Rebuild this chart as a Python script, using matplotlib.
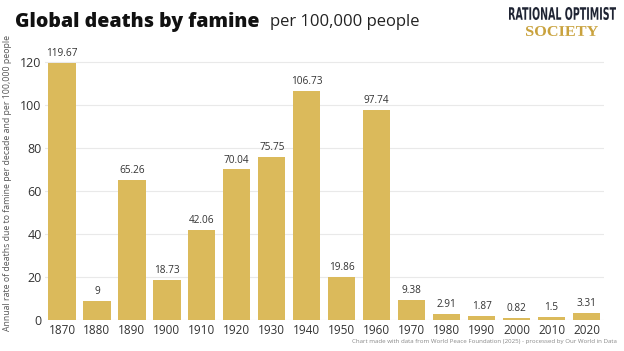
import numpy as np
import matplotlib
matplotlib.use("Agg")
import matplotlib.pyplot as plt
from matplotlib.textpath import TextPath
from matplotlib.patches import PathPatch
from matplotlib.font_manager import FontProperties
from matplotlib.transforms import Affine2D

decades = ["1870", "1880", "1890", "1900", "1910", "1920", "1930", "1940",
           "1950", "1960", "1970", "1980", "1990", "2000", "2010", "2020"]
deaths = [119.67, 9, 65.26, 18.73, 42.06, 70.04, 75.75, 106.73,
          19.86, 97.74, 9.38, 2.91, 1.87, 0.82, 1.5, 3.31]
value_labels = ["119.67", "9", "65.26", "18.73", "42.06", "70.04", "75.75", "106.73",
                "19.86", "97.74", "9.38", "2.91", "1.87", "0.82", "1.5", "3.31"]
y_ticks = [0, 20, 40, 60, 80, 100, 120]

bar_color = "#DBBA5B"
text_color = "#333333"
W, H = 624, 351

plt.rcParams['font.family'] = ['Open Sans', 'DejaVu Sans']

fig = plt.figure(figsize=(6.24, 3.51), dpi=100)
ax = fig.add_axes([44.5 / W, 31 / H, 559.5 / W, 268.75 / H])

x = np.arange(len(decades))
ax.bar(x, deaths, width=0.78, color=bar_color, zorder=2)
for xi, v, lab in zip(x, deaths, value_labels):
    ax.text(xi, v + 1.8, lab, ha='center', va='bottom', fontsize=7.2, color=text_color)

ax.set_xlim(-0.5, len(decades) - 0.5)
ax.set_ylim(0, 125)
ax.set_xticks(x)
ax.set_xticklabels(decades, fontsize=8.5, color=text_color)
ax.set_yticks(y_ticks)
ax.set_yticklabels([str(t) for t in y_ticks], fontsize=9, color=text_color)
ax.tick_params(axis='x', length=0, pad=3)
ax.tick_params(axis='y', length=0, pad=2)
ax.grid(axis='y', color='#e9e9e9', linewidth=0.8, zorder=0)
for s in ax.spines.values():
    s.set_visible(False)

fig.text(8 / W, 1 - 183 / H, "Annual rate of deaths due to famine per decade and per 100,000 people",
         rotation=90, ha='center', va='center', fontsize=6.3, color='#555555')

fig.text(15 / W, 1 - 22 / H, "Global deaths by famine", fontsize=14, fontweight='heavy',
         color='#111111', ha='left', va='center')
fig.text(270 / W, 1 - 22.5 / H, "per 100,000 people", fontsize=12, color='#222222',
         ha='left', va='center')


def fitted_text(s, prop, x0, y0, x1, y1, color):
    # draw text stretched into a pixel box (top-left origin)
    tp = TextPath((0, 0), s, size=20, prop=prop)
    bb = tp.get_extents()
    tr = (Affine2D().translate(-bb.x0, -bb.y0)
          .scale((x1 - x0) / bb.width / W, (y1 - y0) / bb.height / H)
          .translate(x0 / W, 1 - y1 / H))
    fig.add_artist(PathPatch(tp, transform=tr + fig.transFigure, facecolor=color, lw=0))


fitted_text("RATIONAL OPTIMIST", FontProperties(family='DejaVu Sans', weight='bold'),
            509, 7, 616, 20, '#1f2433')
fitted_text("SOCIETY", FontProperties(family='Liberation Serif', weight='bold'),
            526, 26, 598, 36, '#c9a23d')

fig.text(617 / W, 1 - 341 / H, "Chart made with data from World Peace Foundation (2025) - processed by Our World in Data",
         fontsize=4.4, color='#888888', ha='right', va='center')

fig.savefig("out.png", dpi=100)
